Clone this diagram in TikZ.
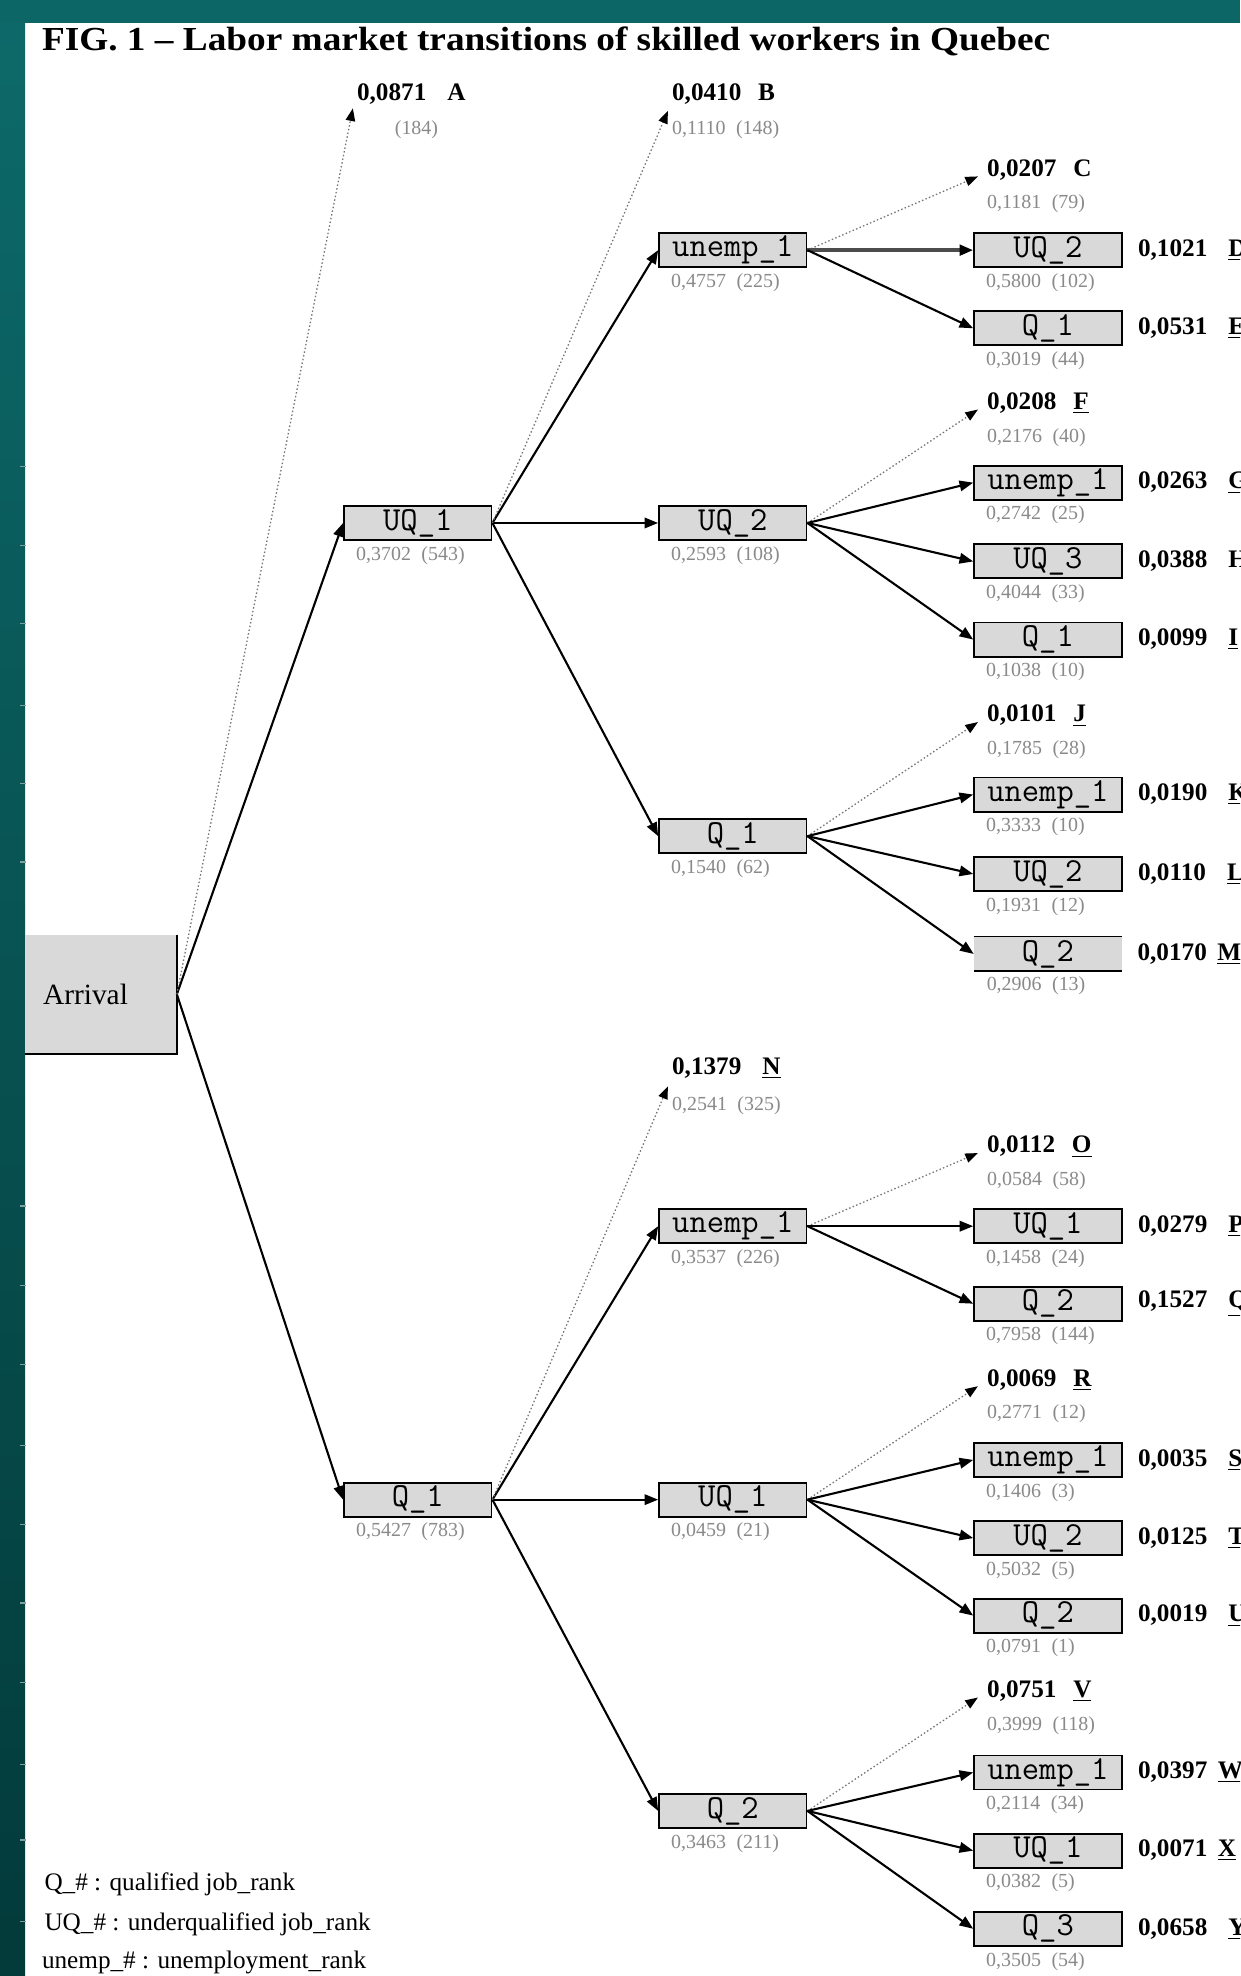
\documentclass[tikz,border=0pt]{standalone}
\usepackage{fontspec}
\usepackage{graphicx}
\setmainfont{Liberation Serif}
\usetikzlibrary{arrows.meta,calc}
\definecolor{boxgrey}{HTML}{D9D9D9}
\definecolor{greytxt}{HTML}{8A8A8A}
\definecolor{tealtop}{HTML}{0C6666}
\definecolor{tealA}{HTML}{0D6969}
\definecolor{tealB}{HTML}{033A3A}
\definecolor{tickc}{HTML}{7FA0A0}
\newcommand\mkbox[5]{\node[tb] (#1) at (#2,#3) {#4};\node[gl] (#1g) at ($(#1.south west)+(10,11.5)$) {#5};}
\newcommand\mkend[6]{\node[bl] (#1) at (#2,#3) {#4\hspace{8pt}#5};\node[gl] (#1g) at (#2,#3+27) {#6};\coordinate (#1t) at (#2-7,#3+5);}
\begin{document}
\begin{tikzpicture}[x=0.6pt,y=-0.6pt,
  tb/.style={draw=black,line width=0.9pt,fill=boxgrey,minimum width=70.2pt,minimum height=16.2pt,inner sep=0pt,font=\ttfamily\fontsize{16}{16}\selectfont},
  tbopen/.style={fill=boxgrey,minimum width=70.2pt,minimum height=16.2pt,inner sep=0pt,font=\ttfamily\fontsize{16}{16}\selectfont},
  gl/.style={text=greytxt,inner sep=0pt,anchor=west,font=\fontsize{9.5}{10}\selectfont},
  bl/.style={inner sep=0pt,anchor=west,font=\bfseries\fontsize{12}{12}\selectfont},
  sol/.style={draw=black,line width=1pt,-{Triangle[length=6.5pt,width=5pt]}},
  solthick/.style={draw=black!70,line width=1.7pt,-{Triangle[length=6.5pt,width=5pt,color=black]}},
  dotl/.style={draw=black!55,line width=0.6pt,dash pattern=on 0.7pt off 1.1pt,-{Triangle[length=6pt,width=4.5pt,color=black]}},
  leg/.style={inner sep=0pt,anchor=west,font=\fontsize{12}{12}\selectfont},
  tickl/.style={draw=tickc,line width=0.6pt}
]
\useasboundingbox (0,0) rectangle (984,1568);
\clip (0,0) rectangle (984,1568);
% background
\fill[white] (0,0) rectangle (984,1568);
\fill[tealtop] (0,0) rectangle (984,18);
\shade[top color=tealA,bottom color=tealB] (0,18) rectangle (20,1568);
\foreach \ty in {370,433,495,560,622,684,957,1020,1083,1147,1210,1272,1335,1400,1460,1525}
  \draw[tickl] (16,\ty) -- (21,\ty);
% title
\node[inner sep=0pt,anchor=west] (title) at (33,33) {\scalebox{1.11}[1]{\bfseries\fontsize{16}{16}\selectfont FIG. 1 – Labor market transitions of skilled workers in Quebec}};
% arrival
\node[fill=boxgrey,minimum width=72pt,minimum height=56.4pt,inner sep=0pt,text width=55pt,align=left,font=\fontsize{14}{14}\selectfont] (arr) at (80,789) {Arrival};
\draw[line width=1pt] (arr.north east) -- (arr.south east) -- (arr.south west);
% level 1
\mkbox{uqA}{331.5}{415}{UQ\_1}{0,3702\hspace{5pt}(543)}
\mkbox{qA}{331.5}{1190}{Q\_1}{0,5427\hspace{5pt}(783)}
% level 2
\mkbox{b1}{581.5}{198.5}{unemp\_1}{0,4757\hspace{5pt}(225)}
\mkbox{b2}{581.5}{415}{UQ\_2}{0,2593\hspace{5pt}(108)}
\mkbox{b3}{581.5}{663.5}{Q\_1}{0,1540\hspace{5pt}(62)}
\mkbox{b4}{581.5}{973}{unemp\_1}{0,3537\hspace{5pt}(226)}
\mkbox{b5}{581.5}{1190}{UQ\_1}{0,0459\hspace{5pt}(21)}
\mkbox{b6}{581.5}{1437}{Q\_2}{0,3463\hspace{5pt}(211)}
% level 3
\mkbox{c11}{831.5}{198.5}{UQ\_2}{0,5800\hspace{5pt}(102)}
\mkbox{c12}{831.5}{260.5}{Q\_1}{0,3019\hspace{5pt}(44)}
\mkbox{c21}{831.5}{383}{unemp\_1}{0,2742\hspace{5pt}(25)}
\mkbox{c22}{831.5}{445.5}{UQ\_3}{0,4044\hspace{5pt}(33)}
\mkbox{c23}{831.5}{507.5}{Q\_1}{0,1038\hspace{5pt}(10)}
\mkbox{c31}{831.5}{630.5}{unemp\_1}{0,3333\hspace{5pt}(10)}
\mkbox{c32}{831.5}{693.5}{UQ\_2}{0,1931\hspace{5pt}(12)}
\node[tbopen] (c33) at (831.5,757) {Q\_2};
\draw[line width=0.9pt] (c33.north west) -- (c33.north east) (c33.south west) -- (c33.south east);
\node[gl] (c33g) at ($(c33.south west)+(10,11.5)$) {0,2906\hspace{5pt}(13)};
\mkbox{c41}{831.5}{973}{UQ\_1}{0,1458\hspace{5pt}(24)}
\mkbox{c42}{831.5}{1034.5}{Q\_2}{0,7958\hspace{5pt}(144)}
\mkbox{c51}{831.5}{1158.5}{unemp\_1}{0,1406\hspace{5pt}(3)}
\mkbox{c52}{831.5}{1220.5}{UQ\_2}{0,5032\hspace{5pt}(5)}
\mkbox{c53}{831.5}{1282}{Q\_2}{0,0791\hspace{5pt}(1)}
\mkbox{c61}{831.5}{1406.5}{unemp\_1}{0,2114\hspace{5pt}(34)}
\mkbox{c62}{831.5}{1468.5}{UQ\_1}{0,0382\hspace{5pt}(5)}
\mkbox{c63}{831.5}{1530.5}{Q\_3}{0,3505\hspace{5pt}(54)}
% right labels
\node[bl] (c11r) at ($(c11.east)+(12,0)$) {0,1021\hspace{10pt}\underline{D}};
\node[bl] (c12r) at ($(c12.east)+(12,0)$) {0,0531\hspace{10pt}\underline{E}};
\node[bl] (c21r) at ($(c21.east)+(12,0)$) {0,0263\hspace{10pt}\underline{G}};
\node[bl] (c22r) at ($(c22.east)+(12,0)$) {0,0388\hspace{10pt}H};
\node[bl] (c23r) at ($(c23.east)+(12,0)$) {0,0099\hspace{10pt}\underline{I}};
\node[bl] (c31r) at ($(c31.east)+(12,0)$) {0,0190\hspace{10pt}\underline{K}};
\node[bl] (c32r) at ($(c32.east)+(12,0)$) {0,0110\hspace{10pt}\underline{L}};
\node[bl] (c33r) at ($(c33.east)+(12,0)$) {0,0170\hspace{5pt}\underline{M}};
\node[bl] (c41r) at ($(c41.east)+(12,0)$) {0,0279\hspace{10pt}\underline{P}};
\node[bl] (c42r) at ($(c42.east)+(12,0)$) {0,1527\hspace{10pt}\underline{Q}};
\node[bl] (c51r) at ($(c51.east)+(12,0)$) {0,0035\hspace{10pt}\underline{S}};
\node[bl] (c52r) at ($(c52.east)+(12,0)$) {0,0125\hspace{10pt}\underline{T}};
\node[bl] (c53r) at ($(c53.east)+(12,0)$) {0,0019\hspace{10pt}\underline{U}};
\node[bl] (c61r) at ($(c61.east)+(12,0)$) {0,0397\hspace{5pt}\underline{W}};
\node[bl] (c62r) at ($(c62.east)+(12,0)$) {0,0071\hspace{5pt}\underline{X}};
\node[bl] (c63r) at ($(c63.east)+(12,0)$) {0,0658\hspace{10pt}\underline{Y}};
% dotted end labels
\node[bl] (eA) at (283,75) {0,0871\hspace{10pt}A};
\node[gl] (eAg) at (313,103) {(184)};
\coordinate (eAt) at (280,86);
\node[bl] (eB) at (533,75) {0,0410\hspace{8pt}B};
\node[gl] (eBg) at (533,103) {0,1110\hspace{5pt}(148)};
\coordinate (eBt) at (530,88);
\node[bl] (eN) at (533,848) {0,1379\hspace{10pt}\underline{N}};
\node[gl] (eNg) at (533,877) {0,2541\hspace{5pt}(325)};
\coordinate (eNt) at (530,862);
\mkend{eC}{783}{135}{0,0207}{C}{0,1181\hspace{5pt}(79)}
\mkend{eF}{783}{320}{0,0208}{\underline{F}}{0,2176\hspace{5pt}(40)}
\mkend{eJ}{783}{568}{0,0101}{\underline{J}}{0,1785\hspace{5pt}(28)}
\mkend{eO}{783}{910}{0,0112}{\underline{O}}{0,0584\hspace{5pt}(58)}
\mkend{eR}{783}{1095}{0,0069}{\underline{R}}{0,2771\hspace{5pt}(12)}
\mkend{eV}{783}{1342}{0,0751}{\underline{V}}{0,3999\hspace{5pt}(118)}
% connectors
\draw[sol] (arr.east) -- (uqA.west);
\draw[sol] (arr.east) -- (qA.west);
\draw[dotl] (arr.east) -- (eAt);
\draw[sol] (uqA.east) -- (b1.west);
\draw[sol] (uqA.east) -- (b2.west);
\draw[sol] (uqA.east) -- (b3.west);
\draw[dotl] (uqA.east) -- (eBt);
\draw[sol] (qA.east) -- (b4.west);
\draw[sol] (qA.east) -- (b5.west);
\draw[sol] (qA.east) -- (b6.west);
\draw[dotl] (qA.east) -- (eNt);
\draw[dotl] (b1.east) -- (eCt);
\draw[solthick] (b1.east) -- (c11.west);
\draw[sol] (b1.east) -- (c12.west);
\draw[dotl] (b2.east) -- (eFt);
\draw[sol] (b2.east) -- (c21.west);
\draw[sol] (b2.east) -- (c22.west);
\draw[sol] (b2.east) -- (c23.west);
\draw[dotl] (b3.east) -- (eJt);
\draw[sol] (b3.east) -- (c31.west);
\draw[sol] (b3.east) -- (c32.west);
\draw[sol] (b3.east) -- (c33.west);
\draw[dotl] (b4.east) -- (eOt);
\draw[sol] (b4.east) -- (c41.west);
\draw[sol] (b4.east) -- (c42.west);
\draw[dotl] (b5.east) -- (eRt);
\draw[sol] (b5.east) -- (c51.west);
\draw[sol] (b5.east) -- (c52.west);
\draw[sol] (b5.east) -- (c53.west);
\draw[dotl] (b6.east) -- (eVt);
\draw[sol] (b6.east) -- (c61.west);
\draw[sol] (b6.east) -- (c62.west);
\draw[sol] (b6.east) -- (c63.west);
% legend
\node[leg] (lg1) at (35,1495) {Q\_\# : qualified job\_rank};
\node[leg] (lg2) at (35,1527) {UQ\_\# : underqualified job\_rank};
\node[leg] (lg3) at (33,1557) {unemp\_\# : unemployment\_rank};
\end{tikzpicture}
\end{document}
